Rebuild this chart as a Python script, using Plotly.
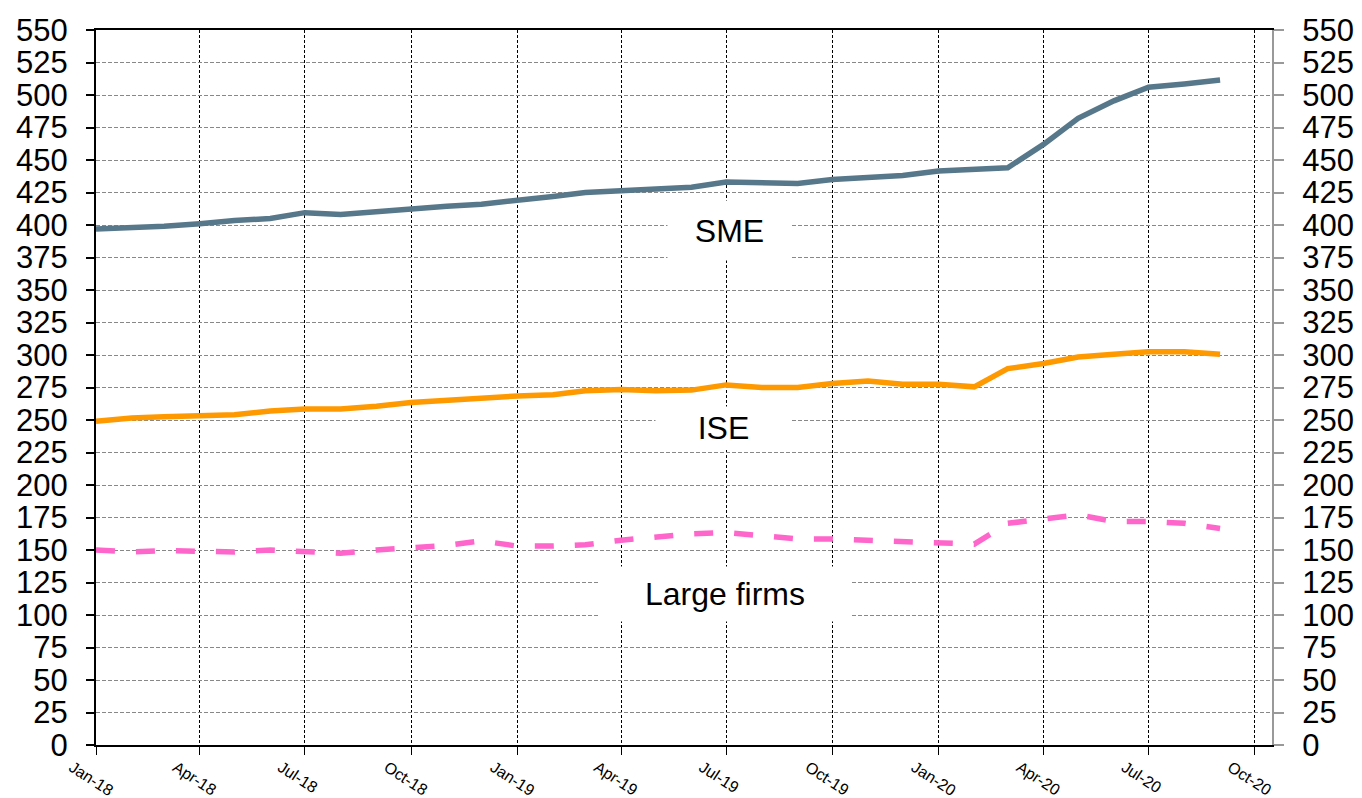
import pandas as pd
import plotly.graph_objects as go

months = pd.date_range("2018-01-01", "2020-09-01", freq="MS")

sme = [397, 398, 399, 401, 403.5, 405, 409.5, 408, 410.5, 412.5, 414.5, 416,
       419.5, 422, 425, 426.5, 427, 429, 433, 432, 432, 435, 436.5, 438,
       441.5, 443, 444, 462, 482, 495.5, 506, 508.5, 511.5]
ise = [249, 251.5, 252.5, 253.5, 254, 257, 258.5, 258.5, 260.5, 263.5, 265.5, 267,
       268.5, 269.5, 272.5, 273.5, 272.5, 273, 277, 275, 275, 278, 280, 277.5,
       277.5, 275.5, 289.5, 293.5, 298.5, 300.5, 302.5, 302.5, 300.5]
large = [150, 148.5, 149.5, 149, 148.5, 150, 149, 147.5, 150, 152, 153.5, 157,
         153, 153, 154, 157.5, 160, 162.5, 163.5, 160.5, 158.5, 158.5, 157.5, 155.5,
         154.5, 154.5, 170.5, 174, 177, 172, 172, 170.5, 166.5]

labels = ["SME", "ISE", "Large firms"]
label_x = ["2019-07-04", "2019-06-29", "2019-06-30"]
label_y = [395.8, 244.2, 116.2]
label_w = [123, 135, 252]
label_h = [59, 41, 54]

FONT = "Arial, Liberation Sans, sans-serif"

fig = go.Figure()
fig.add_trace(go.Scatter(x=months, y=sme, mode="lines", name="SME",
                         line=dict(color="#57788A", width=5.5)))
fig.add_trace(go.Scatter(x=months, y=ise, mode="lines", name="ISE",
                         line=dict(color="#FF9900", width=5.5)))
fig.add_trace(go.Scatter(x=months, y=large, mode="lines", name="Large firms",
                         line=dict(color="#FF66CC", width=5.5, dash="19px,21px")))
# invisible trace to activate the right axis
fig.add_trace(go.Scatter(x=months, y=sme, mode="lines", yaxis="y2",
                         line=dict(width=0), opacity=0, hoverinfo="skip",
                         showlegend=False))

for t, x, y, w, h in zip(labels, label_x, label_y, label_w, label_h):
    fig.add_annotation(x=x, y=y, text=t, showarrow=False, bgcolor="white",
                       width=w, height=h, borderpad=0, align="center",
                       valign="middle", font=dict(family=FONT, size=32, color="black"))

# page body has an 8px default margin; size the figure to fit the window
fig.update_layout(
    width=1354, height=790,
    margin=dict(l=88, r=90, t=22, b=53),
    paper_bgcolor="white", plot_bgcolor="white",
    showlegend=False,
    xaxis=dict(
        type="date", range=["2018-01-01", "2020-10-16"], automargin=False,
        tick0="2018-01-01", dtick="M3", tickformat="%b-%y",
        tickangle=33, ticks="outside", ticklen=8, tickcolor="black",
        tickfont=dict(family=FONT, size=16, color="black"),
        ticklabelshift=-24, ticklabelstandoff=-3,
        showline=True, linecolor="black", linewidth=2, mirror=True,
        showgrid=True, gridcolor="black", griddash="3px,2px", gridwidth=1,
        zeroline=False,
    ),
    yaxis=dict(
        range=[0, 550], dtick=25, tick0=0, automargin=False,
        ticks="outside", ticklen=8, tickcolor="black", tickwidth=2,
        tickfont=dict(family=FONT, size=31, color="black"),
        ticklabelstandoff=12,
        showline=True, linecolor="black", linewidth=2,
        showgrid=True, gridcolor="#888888", griddash="4px,2px", gridwidth=1,
        zeroline=False,
    ),
    yaxis2=dict(
        range=[0, 550], dtick=25, tick0=0, overlaying="y", side="right",
        automargin=False,
        ticks="outside", ticklen=10, tickcolor="#999999", tickwidth=2,
        tickfont=dict(family=FONT, size=31, color="black"),
        ticklabelstandoff=12,
        showline=True, linecolor="#999999", linewidth=2,
        showgrid=False, zeroline=False,
    ),
)

fig.write_html("out.html")
